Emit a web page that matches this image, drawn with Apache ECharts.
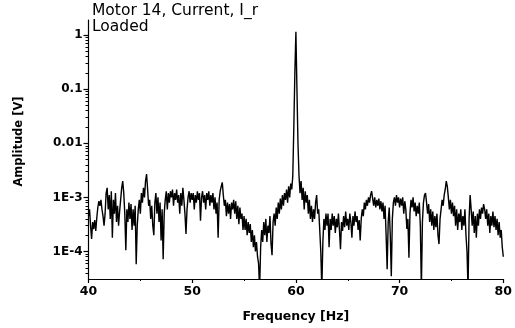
<!DOCTYPE html>
<html>
<head>
<meta charset="utf-8">
<script src="https://cdn.jsdelivr.net/npm/echarts@6/dist/echarts.min.js"></script>
<style>html,body{margin:0;padding:0;background:#fff;}#c{width:515px;height:328px;}</style>
</head>
<body>
<div id="c"></div>
<script>
// Frequency grid (Hz)
const freqStart = 40;
const freqStep = 0.1;
// Amplitude values, in units of 1e-4 V (one per 0.1 Hz, 40.0 ... 80.0 Hz)
const amplitudeE4 = [
  4.5,6.0,3.0,1.7,3.5,2.6,3.8,2.4,4.2,6.5,
  8.5,7.0,9.0,6.0,4.5,3.0,5.0,12,15,6.0,
  11,4.0,13,1.8,9.0,5.0,12,3.5,7.0,3.0,
  5.5,9.0,15,20,12,5.0,1.05,6.0,3.5,8.0,
  4.0,7.5,2.5,6.0,3.0,7.0,0.58,3.0,6.0,9.0,
  5.0,12,8.0,15,10,20,27,14,7.0,9.0,
  4.0,7.0,3.0,2.0,8.0,12,5.0,10,3.5,8.0,
  1.6,6.0,0.72,5.0,9.0,13,6.0,12,8.0,13,
  10,14,7.0,12,9.0,14,8.0,11,5.0,12,
  7.0,15,9.0,5.0,2.1,6.0,10,13,8.0,12,
  9.0,12,6.0,11,8.0,13,9.0,12,3.7,10,
  13,8.0,11,6.0,12,9.0,13,7.0,11,8.0,
  12,6.0,10,5.0,8.0,1.8,9.0,13,16,19,
  11,7.0,9.0,4.5,8.0,5.0,7.5,4.0,8.0,6.0,
  9.0,5.0,8.5,4.0,7.0,3.2,6.5,4.0,5.0,2.5,
  4.5,2.5,4.0,2.0,3.5,2.2,3.2,1.5,2.5,1.2,
  2.0,1.0,1.5,0.8,0.6,0.2,1.2,2.5,1.5,3.5,
  2.0,4.0,1.5,3.0,2.2,4.5,1.4,0.85,3.5,5.0,
  3.0,6.5,4.0,8.0,5.0,9.5,6.0,11,7.0,12,
  9.0,14,8.0,16,10,18,14,25,200,2000,
  11500,1000,100,25,12,20,9.0,15,6.0,13,
  8.0,11,5.0,9.0,4.0,7.0,3.5,6.0,4.0,8.0,
  11,5.0,6.0,2.5,1.0,0.2,1.5,4.0,2.5,5.0,
  3.0,5.0,1.2,4.0,2.5,5.0,3.0,4.5,2.2,4.0,
  2.8,5.0,2.5,1.1,3.5,2.4,4.5,2.8,5.5,3.0,
  4.0,2.5,5.0,3.5,1.8,4.5,3.0,5.5,3.5,4.5,
  2.5,3.8,1.6,4.0,6.0,4.5,8.0,6.0,9.0,7.0,
  10,8.0,11,13,12,7.0,10,6.5,9.0,7.0,
  9.5,6.0,8.5,5.5,8.0,4.0,7.0,2.0,0.47,3.5,
  6.5,2.0,0.35,4.0,8.0,10,7.0,11,8.0,10,
  6.5,9.5,7.0,10,5.0,8.5,6.0,2.6,4.0,0.77,
  5.0,9.0,6.5,10,5.5,8.0,4.5,7.0,5.0,8.0,
  3.0,0.2,3.5,8.0,11,12,8.0,5.0,7.5,3.5,
  6.0,3.0,5.5,2.5,4.5,2.8,5.0,2.0,1.37,4.0,
  6.0,9.0,7.0,11,14,20,16,10,6.0,9.0,
  5.0,8.0,4.5,7.0,3.0,6.0,2.5,5.0,3.5,6.0,
  2.5,4.5,3.0,6.0,2.0,1.0,0.2,4.0,11,6.0,
  3.0,5.5,2.2,4.5,1.8,5.0,3.0,6.0,4.0,6.5,
  5.0,7.5,6.0,4.0,6.0,3.0,5.0,2.2,4.5,3.0,
  5.5,2.8,4.5,2.5,4.0,2.0,3.5,1.8,2.5,1.2,
  0.8
];
// Axis ticks
const xTicks = [40, 50, 60, 70, 80];
const yDecades = [1e-4, 1e-3, 1e-2, 1e-1, 1];
const yDecadeLabels = ['1E-4', '1E-3', '0.01', '0.1', '1'];
const yMinor = [4e-5,5e-5,6e-5,7e-5,8e-5,9e-5,
  2e-4,3e-4,4e-4,5e-4,6e-4,7e-4,8e-4,9e-4,
  2e-3,3e-3,4e-3,5e-3,6e-3,7e-3,8e-3,9e-3,
  2e-2,3e-2,4e-2,5e-2,6e-2,7e-2,8e-2,9e-2,
  0.2,0.3,0.4,0.5,0.6,0.7,0.8,0.9];
const yMin = 3.1e-5, yMax = 1.9;

const data = amplitudeE4.map((v, i) => [+(freqStart + i * freqStep).toFixed(2), v * 1e-4]);

const chart = echarts.init(document.getElementById('c'), null, {renderer: 'canvas'});
const labelFont = {fontFamily: 'DejaVu Sans, sans-serif', fontWeight: 'bold', color: '#000'};
chart.setOption({
  animation: false,
  backgroundColor: '#fff',
  title: {
    text: 'Motor 14, Current, I_r\nLoaded',
    left: 92, top: 3, padding: 0,
    textStyle: {fontFamily: 'DejaVu Sans, sans-serif', fontWeight: 'normal', fontSize: 15.5, lineHeight: 16, color: '#000'}
  },
  grid: {left: 88.5, right: 10, top: 20, bottom: 46, containLabel: false},
  xAxis: {
    type: 'value', min: xTicks[0], max: xTicks[xTicks.length - 1], interval: 10,
    name: 'Frequency [Hz]', nameLocation: 'middle', nameGap: 31,
    nameTextStyle: Object.assign({fontSize: 12.5}, labelFont),
    axisLine: {show: true, lineStyle: {color: '#000', width: 1.2}},
    axisTick: {show: true, length: 4, lineStyle: {color: '#000', width: 1.2}},
    minorTick: {show: true, splitNumber: 2, length: 2, lineStyle: {color: '#000'}},
    axisLabel: Object.assign({fontSize: 12.5, margin: 6}, labelFont),
    splitLine: {show: false}
  },
  yAxis: [{
    type: 'log', logBase: 10, min: yMin, max: yMax,
    name: 'Amplitude [V]', nameLocation: 'middle', nameGap: 63, nameRotate: 90,
    nameTextStyle: Object.assign({fontSize: 11.5, padding: [0, 0, 0, 16]}, labelFont),
    axisLine: {show: true, lineStyle: {color: '#000', width: 1.2}},
    axisTick: {show: true, length: 5, customValues: yDecades, lineStyle: {color: '#000', width: 1.2}},
    axisLabel: Object.assign({fontSize: 12, margin: 6, customValues: yDecades,
      formatter: function (v) {
        const idx = yDecades.findIndex(d => Math.abs(Math.log10(d) - Math.log10(v)) < 1e-6);
        return idx >= 0 ? yDecadeLabels[idx] : '';
      }}, labelFont),
    splitLine: {show: false}
  }, {
    type: 'log', logBase: 10, min: yMin, max: yMax, position: 'left', offset: 0,
    axisLine: {show: false},
    axisTick: {show: true, length: 3, customValues: yMinor, lineStyle: {color: '#000', width: 1}},
    axisLabel: {show: false},
    splitLine: {show: false}
  }],
  series: [{
    type: 'line', data: data, yAxisIndex: 0,
    showSymbol: false, symbol: 'none', clip: true,
    lineStyle: {color: '#000', width: 1.4},
    z: 3
  }]
});
</script>
</body>
</html>
